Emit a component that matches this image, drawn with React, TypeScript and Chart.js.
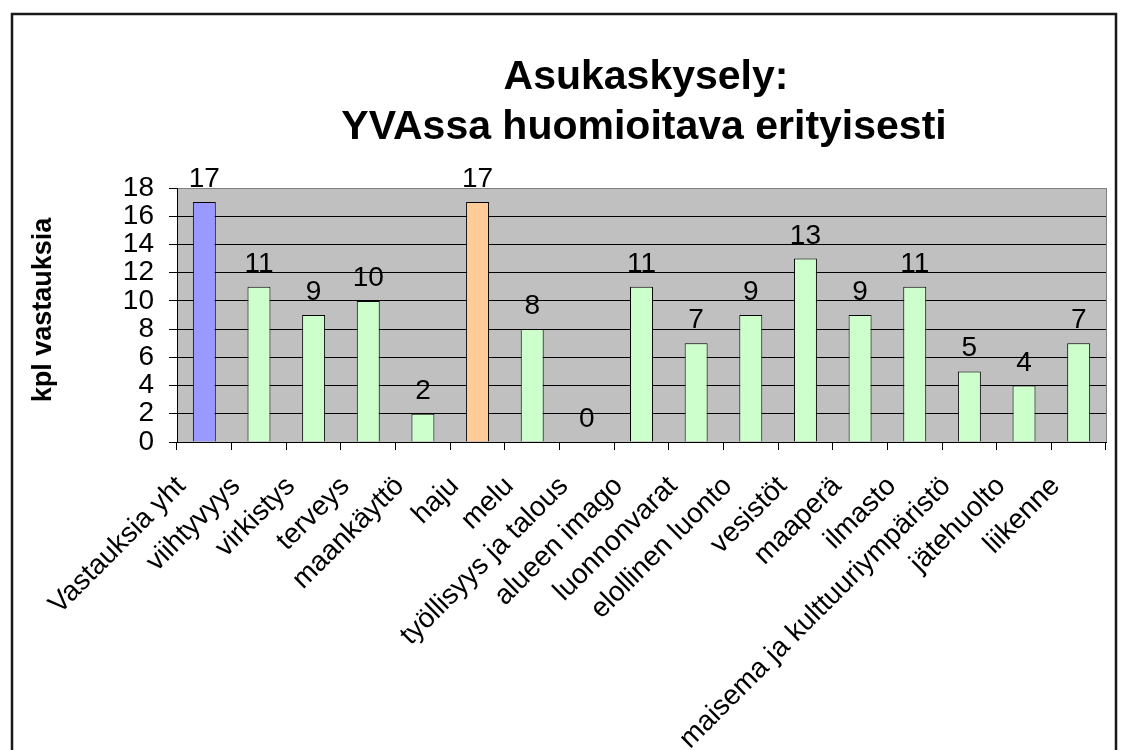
import React, { useEffect, useRef } from 'react';
import { Chart, registerables } from 'chart.js';

Chart.register(...registerables);

const categories = [
  'Vastauksia yht',
  'viihtyvyys',
  'virkistys',
  'terveys',
  'maankäyttö',
  'haju',
  'melu',
  'työllisyys ja talous',
  'alueen imago',
  'luonnonvarat',
  'elollinen luonto',
  'vesistöt',
  'maaperä',
  'ilmasto',
  'maisema ja kulttuuriympäristö',
  'jätehuolto',
  'liikenne',
];
const values = [17, 11, 9, 10, 2, 17, 8, 0, 11, 7, 9, 13, 9, 11, 5, 4, 7];
const titleLines = ['Asukaskysely:', 'YVAssa huomioitava erityisesti'];
const yAxisTitle = 'kpl vastauksia';
const yTickValues = [0, 2, 4, 6, 8, 10, 12, 14, 16, 18];

const COLOR_TOTAL = '#9999FF';
const COLOR_HAJU = '#FFCC99';
const COLOR_OTHER = '#CCFFCC';
const barColors = categories.map((c) =>
  c === 'Vastauksia yht' ? COLOR_TOTAL : c === 'haju' ? COLOR_HAJU : COLOR_OTHER
);

const FONT = '"Liberation Sans", Arial, Helvetica, sans-serif';
const yMax = yTickValues[yTickValues.length - 1];

const decorPlugin = {
  id: 'decor',
  beforeDraw(chart: any) {
    const { ctx, chartArea, width, height } = chart;
    ctx.save();
    ctx.fillStyle = '#ffffff';
    ctx.fillRect(0, 0, width, height);
    ctx.fillStyle = '#C0C0C0';
    ctx.fillRect(chartArea.left, chartArea.top, chartArea.right - chartArea.left, chartArea.bottom - chartArea.top);
    ctx.restore();
  },
  afterDraw(chart: any) {
    const { ctx, chartArea } = chart;
    ctx.save();
    ctx.strokeStyle = '#808080';
    ctx.lineWidth = 1;
    ctx.beginPath();
    ctx.moveTo(Math.round(chartArea.right) + 0.5, chartArea.top);
    ctx.lineTo(Math.round(chartArea.right) + 0.5, chartArea.bottom);
    ctx.stroke();
    ctx.strokeStyle = '#1a1a1a';
    ctx.lineWidth = 2.5;
    ctx.strokeRect(12, 14, 1104, 800);
    ctx.fillStyle = '#000';
    ctx.textAlign = 'center';
    ctx.textBaseline = 'alphabetic';
    ctx.font = `bold 41px ${FONT}`;
    ctx.fillText(titleLines[0], 646, 89);
    ctx.fillText(titleLines[1], 644, 139);
    ctx.font = `bold 27px ${FONT}`;
    ctx.translate(51, (chartArea.top + chartArea.bottom) / 2 - 5);
    ctx.rotate(-Math.PI / 2);
    ctx.fillText(yAxisTitle, 0, 0);
    ctx.restore();
  },
  afterDatasetsDraw(chart: any) {
    const { ctx } = chart;
    const meta = chart.getDatasetMeta(0);
    ctx.save();
    ctx.fillStyle = '#000';
    ctx.font = `28px ${FONT}`;
    ctx.textAlign = 'center';
    ctx.textBaseline = 'alphabetic';
    meta.data.forEach((el: any, i: number) => {
      ctx.fillText(String(values[i]), el.x, el.y - 15);
    });
    ctx.restore();
  },
};

export default function App() {
  const ref = useRef<HTMLCanvasElement | null>(null);
  useEffect(() => {
    if (!ref.current) return;
    const chart = new Chart(ref.current, {
      type: 'bar',
      data: {
        labels: categories,
        datasets: [
          {
            data: values,
            backgroundColor: barColors,
            borderColor: '#000',
            borderWidth: 1,
            barPercentage: 0.42,
            categoryPercentage: 1,
          },
        ],
      },
      options: {
        responsive: false,
        animation: false,
        devicePixelRatio: 1,
        layout: { padding: { top: 188, right: 18, left: 0, bottom: 0 } },
        plugins: {
          legend: { display: false },
          title: { display: false },
          tooltip: { enabled: false },
        },
        scales: {
          x: {
            type: 'category',
            offset: true,
            grid: {
              display: true,
              offset: true,
              drawOnChartArea: false,
              drawTicks: true,
              tickLength: 8,
              color: '#000',
              lineWidth: 1,
            },
            border: { display: true, color: '#000', width: 1 },
            ticks: {
              autoSkip: false,
              maxRotation: 45,
              minRotation: 45,
              padding: 20,
              labelOffset: -23,
              color: '#000',
              font: { family: FONT, size: 28 },
            },
            afterFit(scale: any) {
              scale.height = 308;
            },
          },
          y: {
            min: yTickValues[0],
            max: yMax,
            afterBuildTicks(scale: any) {
              scale.ticks = yTickValues.map((v) => ({ value: v }));
            },
            ticks: {
              autoSkip: false,
              padding: 15,
              color: '#000',
              font: { family: FONT, size: 28, lineHeight: 1 },
            },
            grid: {
              color: (c: any) => (c.tick && c.tick.value === yMax ? '#808080' : '#000'),
              tickColor: '#000',
              tickLength: 8,
              lineWidth: 1,
            },
            border: { display: true, color: '#000', width: 1 },
            afterFit(scale: any) {
              scale.width = 177;
            },
          },
        },
      },
      plugins: [decorPlugin],
    } as any);
    return () => chart.destroy();
  }, []);
  return (
    <div style={{ position: 'fixed', left: 0, top: 0, width: 1124, height: 750, background: '#fff' }}>
      <canvas ref={ref} width={1124} height={750} style={{ display: 'block' }} />
    </div>
  );
}
